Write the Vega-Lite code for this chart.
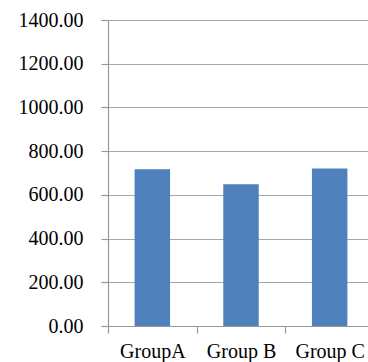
{
  "$schema": "https://vega.github.io/schema/vega-lite/v6.json",
  "autosize": "none",
  "padding": {"left": 108, "top": 20, "right": 0, "bottom": 36},
  "width": 266,
  "height": 306,
  "background": "white",
  "data": {"values": [
    {"group": "GroupA", "value": 717},
    {"group": "Group B", "value": 648},
    {"group": "Group C", "value": 721}
  ]},
  "mark": {"type": "bar", "color": "#4F81BD", "width": {"band": 0.4}},
  "encoding": {
    "x": {
      "field": "group", "type": "nominal", "sort": null, "title": null,
      "scale": {"paddingInner": 0, "paddingOuter": 0},
      "axis": {
        "labelAngle": 0, "tickBand": "extent", "tickSize": 7, "labelPadding": 8,
        "labelFont": "Liberation Serif, Times New Roman, serif", "labelFontSize": 20, "labelColor": "#000",
        "domainColor": "#999", "tickColor": "#999", "domainWidth": 1.2, "tickWidth": 1.2
      }
    },
    "y": {
      "field": "value", "type": "quantitative", "title": null,
      "scale": {"domain": [0, 1400], "nice": false},
      "axis": {
        "values": [0, 200, 400, 600, 800, 1000, 1200, 1400],
        "format": ".2f", "tickSize": 7, "labelPadding": 18,
        "labelFont": "Liberation Serif, Times New Roman, serif", "labelFontSize": 20, "labelColor": "#000",
        "grid": true, "gridColor": "#A6A6A6", "gridWidth": 1.2,
        "domainColor": "#999", "tickColor": "#999", "domainWidth": 1.2, "tickWidth": 1.2
      }
    }
  },
  "config": {"view": {"stroke": null}}
}
